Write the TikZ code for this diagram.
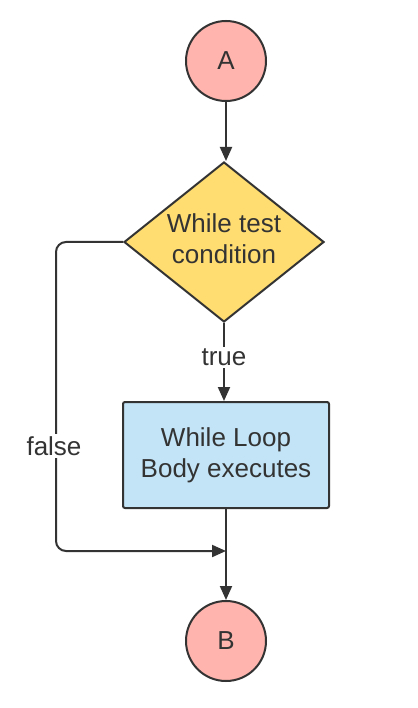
\documentclass[tikz,border=0pt]{standalone}
\usepackage{fontspec}
\setmainfont{Liberation Sans}
\usetikzlibrary{shapes.geometric,arrows.meta}
\definecolor{ink}{HTML}{333333}
\definecolor{termfill}{HTML}{FFB5AE}
\definecolor{decfill}{HTML}{FFDD71}
\definecolor{procfill}{HTML}{C3E4F6}
\begin{document}
\begin{tikzpicture}[x=1pt,y=-1pt,
  line/.style={draw=ink, line width=2pt},
  arr/.style={line, -{Triangle[length=14pt,width=12pt]}},
  txt/.style={text=ink, align=center, font=\fontsize{26}{31}\selectfont},
  term/.style={txt, circle, draw=ink, line width=2pt, fill=termfill, minimum size=80pt, inner sep=0pt},
  dec/.style={txt, diamond, draw=ink, line width=2pt, fill=decfill, minimum width=200pt, minimum height=160pt, aspect=1.25, inner sep=0pt},
  proc/.style={txt, rectangle, rounded corners=2pt, draw=ink, line width=2pt, fill=procfill, minimum width=206pt, minimum height=106pt, inner sep=0pt},
  lbl/.style={txt, fill=white, inner sep=2pt}
]
\useasboundingbox (0,0) rectangle (417,708);
\fill[white] (0,0) rectangle (417,708);
\node[term] (A) at (226,61) {A};
\node[dec] (D) at (224,242) {\raisebox{3pt}{\begin{tabular}{@{}c@{}}While test\\condition\end{tabular}}};
\node[proc] (W) at (226,455) {While Loop\\Body executes};
\node[term] (B) at (226,641) {B};
\coordinate (fx) at (56,551);
\coordinate (m) at (226,551);
\draw[arr] (A.south) -- (A.south |- D.north);
\draw[arr] (D.south) -- (D.south |- W.north) node[lbl, pos=0.44] (t) {true};
\draw[arr] (W.south) -- (B.north);
\draw[arr, rounded corners=10pt] (D.west) -- (D.west -| fx) -- (fx) -- (m);
\node[lbl] (f) at (54,446) {false};
\end{tikzpicture}
\end{document}
